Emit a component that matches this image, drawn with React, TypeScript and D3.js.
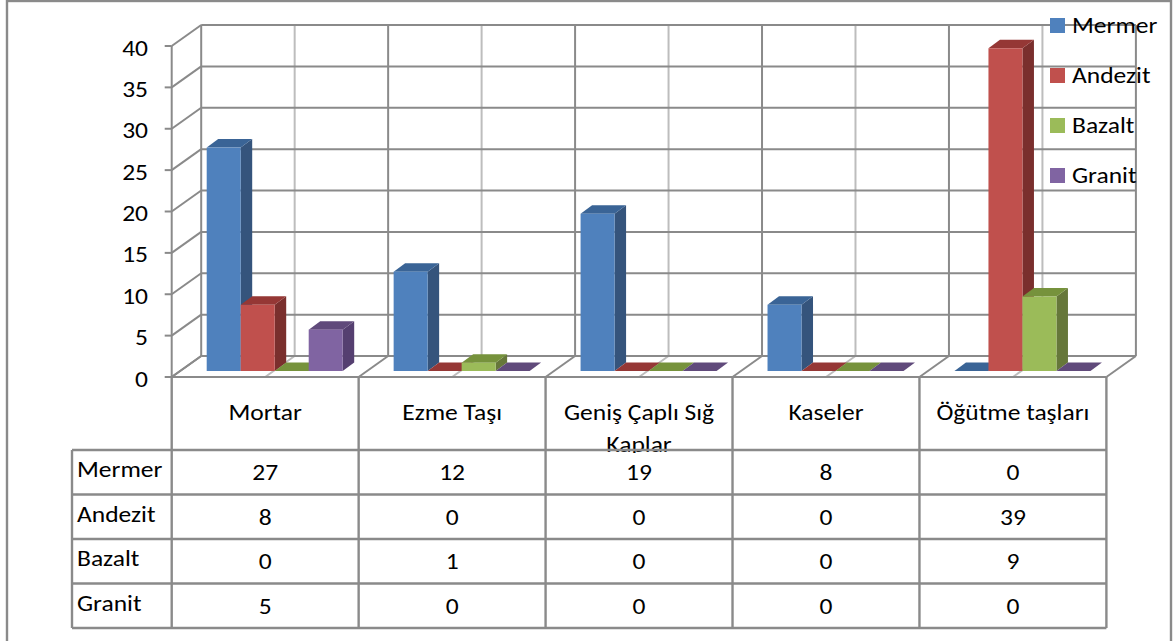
import React from "react";
import * as d3 from "d3";

const categories = ["Mortar", "Ezme Taşı", "Geniş Çaplı Sığ Kaplar", "Kaseler", "Öğütme taşları"];
const seriesNames = ["Mermer", "Andezit", "Bazalt", "Granit"];
const mermer = [27, 12, 19, 8, 0];
const andezit = [8, 0, 0, 0, 39];
const bazalt = [0, 1, 0, 0, 9];
const granit = [5, 0, 0, 0, 0];
const seriesValues = [mermer, andezit, bazalt, granit];
const yTicks = [0, 5, 10, 15, 20, 25, 30, 35, 40];

const faceColors = ["#4F81BD", "#C0504D", "#9BBB59", "#8064A2"];
const sideColors = ["#35547C", "#7A2F2D", "#66773A", "#553F70"];
const topColors = ["#3A6496", "#953735", "#76923C", "#604A7B"];

const GRID = "#8A8A8A";
const LIGHT = "#BDBDBD";
const FONT = "Carlito, Calibri, Lato, sans-serif";
const FS = 23;
const STRETCH = 1.11;

const y = d3.scaleLinear().domain([0, 40]).range([377, 46]);
const x = d3.scaleBand<string>().domain(categories).range([171.7, 1106.4]);
const cw = x.bandwidth();
const DX = 29.5, DY = 21;     // wall depth
const BX = 11.5, BY = 8.5;    // bar depth
const BAR_OFF = 6;            // bar lift above the front floor edge
const inner = d3.scaleBand<string>().domain(seriesNames).range([35, 35 + 34 * 4]);

const rowY = d3.scaleBand<string>().domain(seriesNames).range([450, 628]);
const TABLE_LEFT = 72;

function pts(p: number[][]) {
  return p.map((q) => q.join(",")).join(" ");
}

function Label({ x, y, anchor, children }: { x: number; y: number; anchor?: string; children: any }) {
  return (
    <text transform={`translate(${x},${y}) scale(${STRETCH},1)`} textAnchor={anchor || "start"}>
      {children}
    </text>
  );
}

export default function App() {
  const x0 = x.range()[0];
  const x1 = x.range()[1];
  const bands = categories.map((c) => x(c) as number);
  const edges = [...bands, x1];
  return (
    <svg
      width={1173}
      height={641}
      style={{ position: "absolute", left: 0, top: 0, display: "block", background: "#fff" }}
      fontFamily={FONT}
      fontSize={FS}
      fill="#000"
    >
      <defs>
        <clipPath id="headerClip">
          <rect x={0} y={378} width={1173} height={75} />
        </clipPath>
      </defs>

      {/* outer frame */}
      <rect x={7} y={1} width={1164} height={660} fill="#fff" stroke={GRID} strokeWidth={2.4} />

      {/* mid-category light lines */}
      {bands.map((b, i) => (
        <g key={i} stroke={LIGHT} strokeWidth={2} fill="none">
          <line x1={b + cw / 2 + DX} x2={b + cw / 2 + DX} y1={y(40) - DY} y2={y(0) - DY} />
          <line x1={b + cw / 2} x2={b + cw / 2 + DX} y1={y(0)} y2={y(0) - DY} />
        </g>
      ))}

      {/* back wall and left wall grid */}
      {yTicks.map((t) => (
        <g key={t} stroke={GRID} strokeWidth={2} fill="none">
          <line x1={x0 + DX} x2={x1 + DX} y1={y(t) - DY} y2={y(t) - DY} />
          <line x1={x0} x2={x0 + DX} y1={y(t)} y2={y(t) - DY} />
          <line x1={x0 - 7} x2={x0} y1={y(t)} y2={y(t)} />
        </g>
      ))}
      {edges.map((e, i) => (
        <g key={i} stroke={GRID} strokeWidth={2} fill="none">
          <line x1={e + DX} x2={e + DX} y1={y(40) - DY} y2={y(0) - DY} />
          <line x1={e} x2={e + DX} y1={y(0)} y2={y(0) - DY} />
        </g>
      ))}
      <line x1={x0} x2={x0} y1={y(40)} y2={y(0)} stroke={GRID} strokeWidth={2} />
      <line x1={x0} x2={x1} y1={y(0)} y2={y(0)} stroke={GRID} strokeWidth={2} />

      {/* y tick labels */}
      {yTicks.map((t) => (
        <Label key={t} x={148} y={y(t) + 9.5} anchor="end">
          {t}
        </Label>
      ))}

      {/* bars */}
      {categories.map((c, ci) =>
        seriesNames.map((s, si) => {
          const v = seriesValues[si][ci];
          const l = (x(c) as number) + (inner(s) as number);
          const r = l + inner.bandwidth();
          const top = y(v) - BAR_OFF;
          const bot = y(0) - BAR_OFF;
          return (
            <g key={c + s}>
              <polygon
                points={pts([[r, top], [r + BX, top - BY], [r + BX, bot - BY], [r, bot]])}
                fill={sideColors[si]}
              />
              <polygon
                points={pts([[l, top], [l + BX, top - BY], [r + BX, top - BY], [r, top]])}
                fill={topColors[si]}
              />
              {v > 0 && <rect x={l} y={top} width={r - l} height={bot - top} fill={faceColors[si]} />}
            </g>
          );
        })
      )}

      {/* legend */}
      {seriesNames.map((s, i) => (
        <g key={s}>
          <rect x={1050} y={18 + i * 50} width={15} height={15} fill={faceColors[i]} />
          <Label x={1072} y={33 + i * 50}>
            {s}
          </Label>
        </g>
      ))}

      {/* category header text, wrapped and cut by the table's first row */}
      <g clipPath="url(#headerClip)">
        {categories.map((c) => {
          const cx = (x(c) as number) + cw / 2;
          const lines = c === "Geniş Çaplı Sığ Kaplar" ? ["Geniş Çaplı Sığ", "Kaplar"] : [c];
          return lines.map((t, i) => (
            <Label key={c + i} x={cx} y={420 + i * 32} anchor="middle">
              {t}
            </Label>
          ));
        })}
      </g>

      {/* data table */}
      <g stroke={GRID} strokeWidth={2.4} fill="none">
        {edges.map((e, i) => (
          <line key={i} x1={e} x2={e} y1={y(0)} y2={628} />
        ))}
        <line x1={TABLE_LEFT} x2={TABLE_LEFT} y1={450} y2={628} />
        {seriesNames.map((s) => (
          <line key={s} x1={TABLE_LEFT} x2={x1} y1={rowY(s) as number} y2={rowY(s) as number} />
        ))}
        <line x1={TABLE_LEFT} x2={x1} y1={628} y2={628} />
      </g>
      {seriesNames.map((s, si) => (
        <g key={s}>
          <Label x={77} y={(rowY(s) as number) + 27}>
            {s}
          </Label>
          {categories.map((c, ci) => (
            <Label key={c} x={(x(c) as number) + cw / 2} y={(rowY(s) as number) + 30} anchor="middle">
              {seriesValues[si][ci]}
            </Label>
          ))}
        </g>
      ))}
    </svg>
  );
}
